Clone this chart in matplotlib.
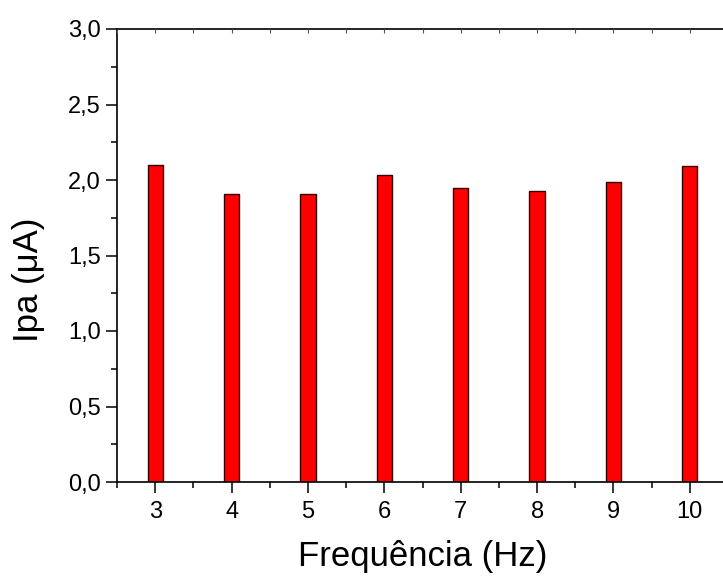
import matplotlib.pyplot as plt
from matplotlib.ticker import MultipleLocator

# Peak anodic current vs. frequency
frequencias = [3, 4, 5, 6, 7, 8, 9, 10]
ipa = [2.10, 1.91, 1.91, 2.03, 1.95, 1.93, 1.99, 2.09]
y_ticks = [0.0, 0.5, 1.0, 1.5, 2.0, 2.5, 3.0]
y_tick_labels = ['0,0', '0,5', '1,0', '1,5', '2,0', '2,5', '3,0']

plt.rcParams['font.family'] = ['Liberation Sans', 'DejaVu Sans']

fig = plt.figure(figsize=(7.23, 5.79), dpi=100)
ax = fig.add_axes([117 / 723, 97 / 579, 611 / 723, 453 / 579])

ax.bar(frequencias, ipa, width=0.2, color='#ff0000', edgecolor='#300000', linewidth=1.0)

ax.set_xlim(2.5, 10.5)
ax.set_ylim(0, 3.0)
ax.set_xticks(frequencias)
ax.xaxis.set_minor_locator(MultipleLocator(0.5))
ax.set_yticks(y_ticks)
ax.set_yticklabels(y_tick_labels)
ax.yaxis.set_minor_locator(MultipleLocator(0.25))

ax.tick_params(which='major', direction='out', length=8, width=1.1, labelsize=17)
ax.tick_params(axis='x', which='major', pad=6)
ax.tick_params(which='minor', direction='out', length=4.5, width=1.1)

for side in ['left', 'bottom', 'top']:
    ax.spines[side].set_linewidth(1.2)
ax.spines['right'].set_visible(False)

# short inward ticks along the top edge
top = ax.twiny()
top.set_xlim(ax.get_xlim())
top.xaxis.set_major_locator(MultipleLocator(0.5))
top.tick_params(axis='x', direction='in', length=3, width=0.8, labeltop=False, colors='#555555')
for side in ['top', 'right', 'left', 'bottom']:
    top.spines[side].set_visible(False)

ax.set_xlabel('Frequência (Hz)', fontsize=25, labelpad=12)
ax.set_ylabel('Ipa (μA)', fontsize=25)
ax.yaxis.set_label_coords(-0.118, 0.446)

fig.savefig('out.png', dpi=100)
